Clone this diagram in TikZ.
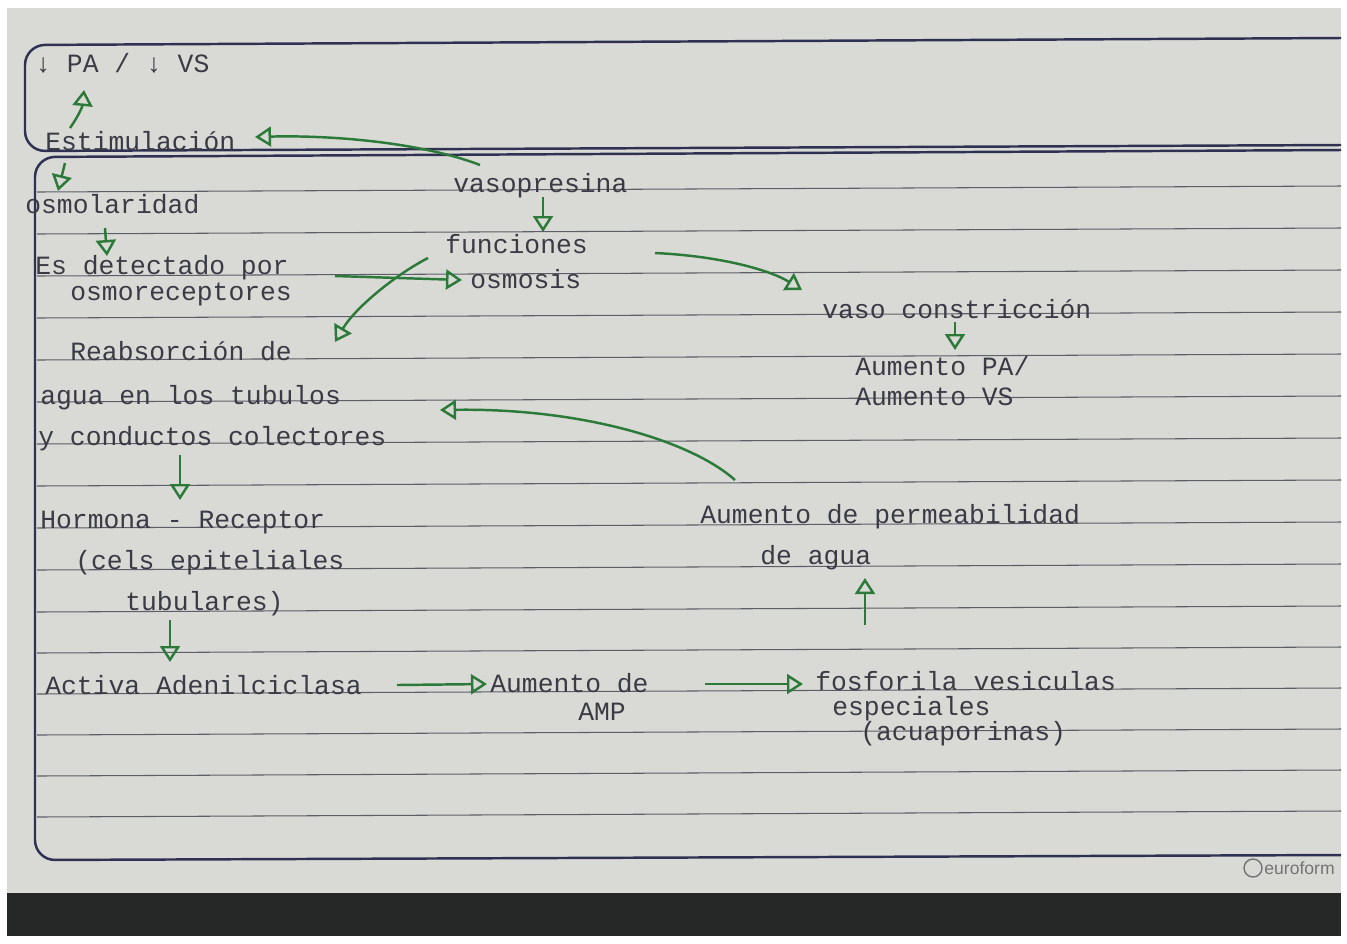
\documentclass[tikz,border=0pt]{standalone}
\usepackage{fontspec}
\newfontfamily\handfont{Liberation Mono}
\newfontfamily\brandfont{Liberation Sans}
\usetikzlibrary{arrows.meta,calc}

\definecolor{paper}{HTML}{D9DAD5}
\definecolor{desk}{HTML}{262727}
\definecolor{pen}{HTML}{3A3B44}
\definecolor{ink}{HTML}{2C7A3A}
\definecolor{rule}{HTML}{5C5F6A}
\definecolor{frame}{HTML}{2E3152}

\tikzset{
  txt/.style={anchor=base west, inner sep=0pt, text=pen,
    font=\handfont\fontsize{15}{18}\selectfont},
  link/.style={draw=ink, line width=1.4pt,
    -{Triangle[open,length=3.2mm,width=4mm]}},
  ruled/.style={draw=rule, line width=0.6pt},
  border/.style={draw=frame, line width=1.4pt, rounded corners=4mm},
  brand/.style={anchor=west, inner sep=0pt, text=black!55,
    font=\brandfont\fontsize{10}{12}\selectfont},
}

\begin{document}
\begin{tikzpicture}[x=0.2mm, y=-0.2mm]
        \useasboundingbox (0,0) rectangle (1347,943);
        \fill[white] (0,0) rectangle (1347,943);
        \fill[paper] (7,8) rectangle (1341,893);
        \fill[desk]  (7,893) rectangle (1341,936);

        % frames and ruled lines
        \draw[border] (1341,38) -- (25,45) -- (25,151) -- (1341,145);
        \draw[border] (1341,150) -- (35,157) -- (35,860) -- (1341,855);
        \foreach \y in {192,234,276,318,360,402,444,486,528,570,612,653,694,735,776,817}
          \draw[ruled] (37,\y) -- (1341,{\y-6});

        \draw[black!55, line width=0.8pt] (1253,868) circle (1.8mm);
        \node[brand] (logo) at (1264,868) {euroform};

        % left column
        \node[txt] (pavs)  at (35,72)   {↓ PA / ↓ VS};
        \node[txt] (estim) at (45,150)  {Estimulación};
        \node[txt] (osmo)  at (25,213)  {osmolaridad};
        \node[txt] (det1)  at (35,274)  {Es detectado por};
        \node[txt] (det2)  at (70,300)  {osmoreceptores};
        \node[txt] (reab1) at (70,360)  {Reabsorción de};
        \node[txt] (reab2) at (40,404)  {agua en los tubulos};
        \node[txt] (reab3) at (38,445)  {y conductos colectores};
        \node[txt] (horm1) at (40,528)  {Hormona - Receptor};
        \node[txt] (horm2) at (75,569)  {(cels epiteliales};
        \node[txt] (horm3) at (125,610) {tubulares)};
        \node[txt] (act)   at (45,694)  {Activa Adenilciclasa};

        % middle and right
        \node[txt] (vaso)  at (453,192) {vasopresina};
        \node[txt] (func)  at (445,253) {funciones};
        \node[txt] (osmos) at (470,288) {osmosis};
        \node[txt] (vc)    at (822,318) {vaso constricción};
        \node[txt] (ap1)   at (855,375) {Aumento PA/};
        \node[txt] (ap2)   at (855,405) {Aumento VS};
        \node[txt] (perm1) at (700,523) {Aumento de permeabilidad};
        \node[txt] (perm2) at (760,564) {de agua};
        \node[txt] (amp1)  at (490,692) {Aumento de};
        \node[txt] (amp2)  at (578,720) {AMP};
        \node[txt] (fosf1) at (815,690) {fosforila vesiculas};
        \node[txt] (fosf2) at (832,715) {especiales};
        \node[txt] (fosf3) at (860,740) {(acuaporinas)};

        % arrows
        \draw[link] ($(estim.base west)+(25,-22)$) to[bend right=15] ($(pavs.base west)+(49,18)$);
        \draw[link] ($(vaso.base west)+(27,-27)$) .. controls (420,142) and (330,135) .. ($(estim.base west)+(210,-13)$);
        \draw[link] ($(estim.base west)+(20,13)$) -- ($(osmo.base west)+(33,-22)$);
        \draw[link] ($(osmo.base west)+(80,15)$) -- ($(det1.base west)+(72,-18)$);
        \draw[link] ($(det1.base west)+(300,2)$) -- ($(osmos.base west)+(-8,-8)$);
        \draw[link] ($(vaso.base west)+(90,5)$) -- ($(func.base west)+(98,-21)$);
        \draw[link] ($(func.base west)+(-17,5)$) .. controls (395,275) and (355,308) .. ($(reab1.base west)+(265,-18)$);
        \draw[link] ($(func.base west)+(210,0)$) .. controls (720,256) and (770,270) .. ($(vc.base west)+(-20,-28)$);
        \draw[link] ($(vc.base west)+(133,4)$) -- ($(ap1.base west)+(100,-25)$);
        \draw[link] ($(perm1.base west)+(35,-43)$) .. controls (690,440) and (580,408) .. ($(reab2.base west)+(400,6)$);
        \draw[link] ($(reab3.base west)+(142,10)$) -- ($(horm1.base west)+(140,-28)$);
        \draw[link] ($(horm3.base west)+(45,10)$) -- ($(act.base west)+(125,-32)$);
        \draw[link] ($(act.base west)+(352,-9)$) -- ($(amp1.base west)+(-3,-8)$);
        \draw[link] ($(amp1.base west)+(215,-8)$) -- ($(fosf1.base west)+(-12,-6)$);
        \draw[link] ($(fosf1.base west)+(50,-65)$) -- ($(perm2.base west)+(105,14)$);
\end{tikzpicture}
\end{document}
